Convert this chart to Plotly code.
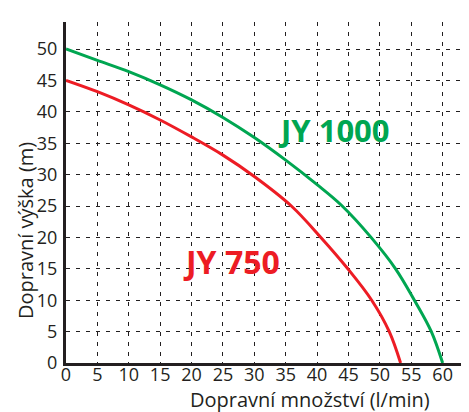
import plotly.graph_objects as go

# Data
flow_jy1000 = [0, 5, 10, 15, 20, 25, 30, 35, 40, 44.0, 48.6, 52.5, 55.5, 58.2, 60.0]
head_jy1000 = [50, 48.2, 46.4, 44.3, 41.9, 39.1, 35.9, 32.3, 28.4, 25, 20, 15, 10, 5, 0]

flow_jy750 = [0, 5, 10, 15, 20, 25, 30, 35.9, 40.6, 44.9, 48.7, 51.5, 53.3]
head_jy750 = [45, 43.2, 41.1, 38.7, 36.0, 33.1, 29.7, 25, 20, 15, 10, 5, 0]

x_ticks = list(range(0, 65, 5))
y_ticks = list(range(0, 55, 5))

GREEN = "#00a651"
RED = "#ed1c24"
INK = "#231f20"
FONT = "Open Sans"

# plot area in figure pixels (page is offset by the 8px body margin)
W, H = 469, 412
L, R, T, B = 58, 8, 14, 57
PW, PH = W - L - R, H - T - B
X_RANGE = [0, 64.2]

fig = go.Figure()
fig.add_trace(go.Scatter(x=flow_jy1000, y=head_jy1000, mode="lines",
                         line=dict(color=GREEN, width=3, shape="spline", smoothing=1.0),
                         hoverinfo="skip", showlegend=False))
fig.add_trace(go.Scatter(x=flow_jy750, y=head_jy750, mode="lines",
                         line=dict(color=RED, width=3, shape="spline", smoothing=1.0),
                         hoverinfo="skip", showlegend=False))
# invisible trace so the label-only overlay axis is drawn
fig.add_trace(go.Scatter(x=x_ticks, y=[0] * len(x_ticks), xaxis="x2", mode="markers",
                         marker=dict(opacity=0), hoverinfo="skip", showlegend=False))

fig.add_annotation(x=42.7, y=37.1, text="<b>JY 1000</b>", showarrow=False,
                   font=dict(family=FONT, size=31, color=GREEN))
fig.add_annotation(x=26.3, y=16.1, text="<b>JY 750</b>", showarrow=False,
                   font=dict(family=FONT, size=32, color=RED))

# axis titles (positions converted from page pixels)
fig.add_annotation(xref="paper", yref="paper", xanchor="center", yanchor="middle",
                   x=(302 - L) / PW, y=((H - B) - 392) / PH,
                   text="Dopravní množství (l/min)", showarrow=False,
                   font=dict(family=FONT, size=20, color=INK))
fig.add_annotation(xref="paper", yref="paper", xanchor="center", yanchor="middle",
                   x=(17 - L) / PW, y=((H - B) - 223) / PH,
                   text="Dopravní výška (m)", textangle=-90, showarrow=False,
                   font=dict(family=FONT, size=20, color=INK))

grid = dict(showgrid=True, gridcolor=INK, gridwidth=1.3, griddash="4px,6px",
            zeroline=False, showline=True, linecolor=INK, linewidth=3,
            ticks="", tickfont=dict(family=FONT, size=18, color=INK))

fig.update_xaxes(range=X_RANGE, tickvals=x_ticks, showticklabels=False, **grid)
fig.update_yaxes(range=[0, 54.3], tickvals=y_ticks, ticklabelstandoff=2, **grid)

fig.update_layout(
    width=W, height=H, margin=dict(l=L, r=R, t=T, b=B),
    paper_bgcolor="white", plot_bgcolor="white",
    # overlay axis used only to place the x tick labels a little closer to the axis
    xaxis2=dict(overlaying="x", anchor="free", position=1 / PH, side="bottom",
                range=X_RANGE, tickvals=x_ticks, showgrid=False, zeroline=False,
                showline=False, ticks="",
                tickfont=dict(family=FONT, size=18, color=INK)),
)

fig.write_html("out.html")
